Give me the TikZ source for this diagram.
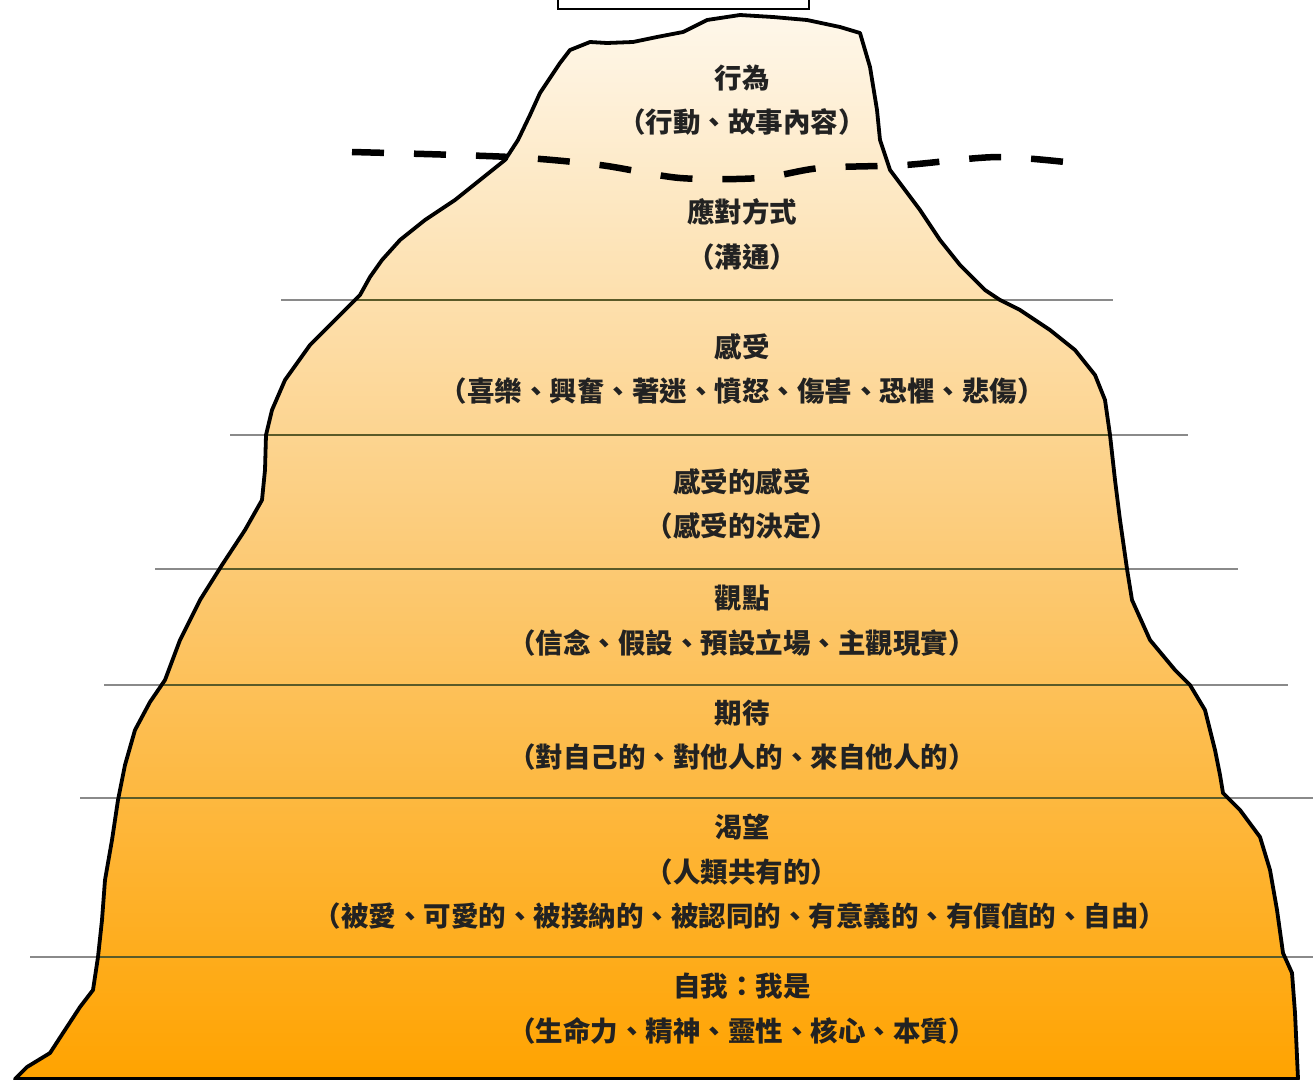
\documentclass[tikz,border=0pt]{standalone}
\usepackage{fontspec}
\newfontfamily\cjk{Noto Sans CJK TC}
\usetikzlibrary{calc}
\definecolor{icetop}{HTML}{FEF7EA}
\definecolor{icemid}{HTML}{FCCB78}
\definecolor{icebot}{HTML}{FFA300}
\definecolor{rulegray}{HTML}{8A8A8A}
\definecolor{ruleolive}{HTML}{5A5A28}
\definecolor{txt}{HTML}{222222}
\tikzset{
  label/.style={font=\cjk\bfseries\fontsize{27.5}{32}\selectfont, text=txt, inner sep=0pt, anchor=center},
  layerline/.style={line width=1.6pt},
  waterline/.style={line width=6.5pt, dash pattern=on 32pt off 30pt, line cap=butt},
  outline/.style={line width=3.8pt, line join=round},
}
\begin{document}
\begin{tikzpicture}[x=1pt,y=-1pt]
\useasboundingbox (0,0) rectangle (1313,1079);
\fill[white] (0,0) rectangle (1313,1079);

% iceberg silhouette
\def\iceberg{(15,1079) -- (27,1067) -- (50,1053) -- (63,1033) -- (80,1007) -- (93,990)
  -- (98,957) -- (102,920) -- (105,880) -- (112,840) -- (118,800) -- (125,765)
  -- (135,730) -- (150,702) -- (165,680) -- (180,640) -- (200,600) -- (222,565)
  -- (245,530) -- (262,500) -- (265,470) -- (266,435) -- (272,410) -- (285,380)
  -- (310,345) -- (340,315) -- (360,295) -- (370,277) -- (382,260) -- (400,240)
  -- (425,220) -- (455,200) -- (480,180) -- (505,160) -- (518,140) -- (530,115)
  -- (540,93) -- (560,63) -- (570,50) -- (590,42) -- (607,43) -- (633,42)
  -- (657,37) -- (683,32) -- (707,20) -- (740,15) -- (773,17) -- (807,20)
  -- (840,27) -- (860,33) -- (870,67) -- (877,110) -- (880,140) -- (890,170)
  -- (905,190) -- (920,210) -- (940,240) -- (960,265) -- (985,290) -- (1000,300)
  -- (1020,310) -- (1050,330) -- (1075,350) -- (1095,375) -- (1105,400)
  -- (1110,435) -- (1115,480) -- (1120,520) -- (1127,569) -- (1132,600)
  -- (1150,640) -- (1175,670) -- (1190,685) -- (1205,710) -- (1215,750)
  -- (1220,775) -- (1223,793) -- (1240,810) -- (1260,837) -- (1270,870)
  -- (1277,910) -- (1283,953) -- (1292,973) -- (1295,1013) -- (1298,1079) -- cycle}

% layer boundaries (outside part)
\foreach \y/\a/\b in {300/281/1113, 435/230/1188, 569/155/1238, 685/104/1288, 798/80/1313, 957/30/1313}
  \draw[layerline, rulegray] (\a,\y) -- (\b,\y);

% gradient body
\path[top color=icetop, bottom color=icebot, middle color=icemid] \iceberg;

% layer boundaries (inside part)
\begin{scope}
  \clip \iceberg;
  \foreach \y/\a/\b in {300/281/1113, 435/230/1188, 569/155/1238, 685/104/1288, 798/80/1313, 957/30/1313}
    \draw[layerline, ruleolive] (\a,\y) -- (\b,\y);
\end{scope}

% outline
\draw[outline] \iceberg;

% water surface
\coordinate (w0) at (352,152);
\coordinate (w1) at (510,157);
\coordinate (w2) at (600,165);
\coordinate (w3) at (680,178);
\coordinate (w4) at (760,178);
\coordinate (w5) at (820,168);
\coordinate (w6) at (905,165);
\coordinate (w7) at (1000,157);
\coordinate (w8) at (1092,165);
\draw[waterline] plot[smooth, tension=0.5] coordinates {(w0) (w1) (w2) (w3) (w4) (w5) (w6) (w7) (w8)};

% title frame
\draw[line width=1.6pt] (558,-5) rectangle (809,9);

% layer labels
\node[label] (t1a) at (742,78)  {行為};
\node[label] (t1b) at (742,122) {（行動、故事內容）};
\node[label] (t2a) at (742,212) {應對方式};
\node[label] (t2b) at (742,257) {（溝通）};
\node[label] (t3a) at (742,347) {感受};
\node[label] (t3b) at (742,391) {（喜樂、興奮、著迷、憤怒、傷害、恐懼、悲傷）};
\node[label] (t4a) at (742,482) {感受的感受};
\node[label] (t4b) at (742,526) {（感受的決定）};
\node[label] (t5a) at (742,598) {觀點};
\node[label] (t5b) at (742,643) {（信念、假設、預設立場、主觀現實）};
\node[label] (t6a) at (742,713) {期待};
\node[label] (t6b) at (742,757) {（對自己的、對他人的、來自他人的）};
\node[label] (t7a) at (742,827) {渴望};
\node[label] (t7b) at (742,872) {（人類共有的）};
\node[label] (t7c) at (740,916) {（被愛、可愛的、被接納的、被認同的、有意義的、有價值的、自由）};
\node[label] (t8a) at (742,986) {自我：我是};
\node[label] (t8b) at (742,1031) {（生命力、精神、靈性、核心、本質）};
\end{tikzpicture}
\end{document}
